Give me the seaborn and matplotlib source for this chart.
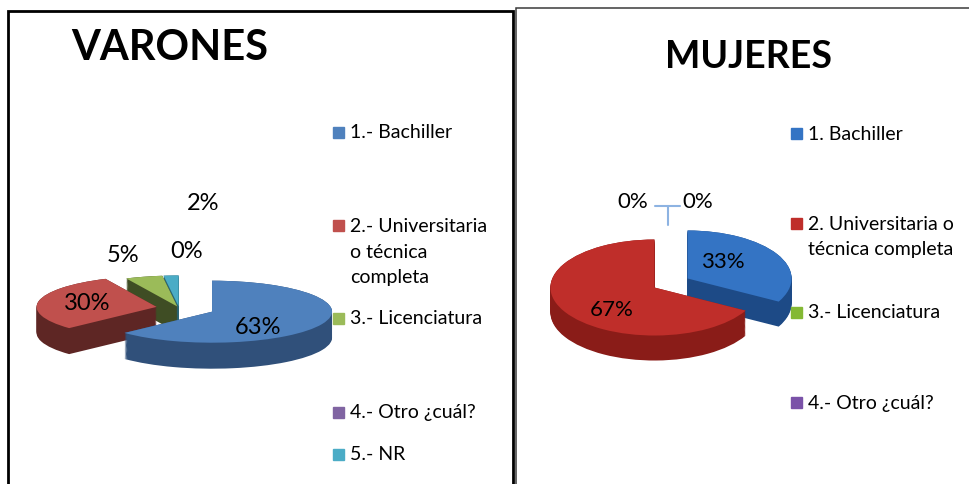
import numpy as np
import matplotlib
matplotlib.use('Agg')
import matplotlib.pyplot as plt
import matplotlib.patches as mpatches
import seaborn as sns

sns.set_theme(style='white')
plt.rcParams['font.family'] = ['Lato', 'DejaVu Sans']
plt.rcParams['text.color'] = 'black'

W, H = 969, 485

# ── Data ──────────────────────────────────────────────────────────────────────
men_labels = ['1.- Bachiller', '2.- Universitaria\no técnica\ncompleta',
              '3.- Licenciatura', '4.- Otro ¿cuál?', '5.- NR']
men_values = [63, 30, 5, 0, 2]

women_labels = ['1. Bachiller', '2. Universitaria o\ntécnica completa',
                '3.- Licenciatura', '4.- Otro ¿cuál?']
women_values = [33, 67, 0, 0]

# ── Colours ───────────────────────────────────────────────────────────────────
men_top = sns.color_palette(['#4F81BD', '#C0504D', '#9BBB59', '#8064A2', '#4BACC6'])
men_side = sns.color_palette(['#30507A', '#5E2624', '#3F4D24', '#3E2F52', '#2A6474'])
women_top = sns.color_palette(['#3474C4', '#BF2E2A', '#84B934', '#7A52A8'])
women_side = sns.color_palette(['#1D4A86', '#8A1C18', '#4E6E1C', '#452C63'])


def px_axes(fig, box):
    x0, y0, x1, y1 = box
    return fig.add_axes([x0 / W, 1 - y1 / H, (x1 - x0) / W, (y1 - y0) / H])


def pie3d(ax, values, top, side, explode, box, center, rx, ry, depth):
    """Fake 3D pie: stacked darker pies for the side, squashed by the axes limits."""
    x0, y0, x1, y1 = box
    cx, cy = center
    d = depth / ry
    n = 30
    for k in range(n):
        off = d * (1 - k / (n - 1))
        ax.pie(values, colors=side, explode=explode, startangle=90,
               counterclock=False, center=(0, -off),
               wedgeprops=dict(linewidth=0))
    wedges, _, autotexts = ax.pie(values, colors=top, explode=explode,
                                  startangle=90, counterclock=False,
                                  autopct=lambda p: f'{p:.0f}%',
                                  wedgeprops=dict(linewidth=0))
    ax.set_aspect('auto')
    ax.set_xlim((x0 - cx) / rx, (x1 - cx) / rx)
    ax.set_ylim((cy - y1) / ry, (cy - y0) / ry)
    ax.axis('off')
    return autotexts


def place_labels(fig, texts, positions, size):
    for t, (x, y) in zip(texts, positions):
        t.set_transform(fig.transFigure)
        t.set_position((x / W, 1 - y / H))
        t.set_fontsize(size)
        t.set_color('black')
        t.set_ha('center')
        t.set_va('center')


def draw_legend(fig, labels, colors, ys, x_sq, size, step=26):
    for lab, col, y in zip(labels, colors, ys):
        fig.add_artist(mpatches.Rectangle((x_sq / W, 1 - (y + 5.5) / H),
                                          11 / W, 11 / H, color=col,
                                          transform=fig.transFigure))
        for i, line in enumerate(lab.split('\n')):
            fig.text((x_sq + 17) / W, 1 - (y + i * step) / H, line,
                     fontsize=size, ha='left', va='center', color='black')


fig = plt.figure(figsize=(W / 100, H / 100), dpi=100)
fig.patch.set_facecolor('white')

# panel frames
fig.add_artist(mpatches.Rectangle((8 / W, -0.1), (513 - 8) / W, 1.1 - 12 / H,
                                  fill=False, ec='black', lw=2,
                                  transform=fig.transFigure))
fig.add_artist(mpatches.Rectangle((516 / W, -0.1), (1000 - 516) / W, 1.1 - 9 / H,
                                  fill=False, ec='#3a3a3a', lw=1.1,
                                  transform=fig.transFigure))

# ── VARONES ──────────────────────────────────────────────────────────────────
fig.text(170 / W, 1 - 48 / H, 'VARONES', fontsize=30, weight='bold',
         ha='center', va='center', color='black')
box_m = (20, 170, 345, 400)
ax_m = px_axes(fig, box_m)
txt_m = pie3d(ax_m, men_values, men_top, men_side,
              explode=[0.3, 0.19, 0.05, 0.05, 0.05],
              box=box_m, center=(179, 309), rx=120, ry=31, depth=26)
place_labels(fig, txt_m, [(258, 327), (87, 304), (123, 255), (187, 252), (203, 203)], 17)
draw_legend(fig, men_labels, men_top, [133, 226, 319, 413, 455], 333, 14)

# ── MUJERES ──────────────────────────────────────────────────────────────────
fig.text(748 / W, 1 - 57 / H, 'MUJERES', fontsize=27, weight='bold',
         ha='center', va='center', color='black')
box_w = (530, 170, 800, 400)
ax_w = px_axes(fig, box_w)
txt_w = pie3d(ax_w, women_values, women_top, women_side,
              explode=[0.185, 0.185, 0, 0],
              box=box_w, center=(671, 284), rx=104, ry=48, depth=25)
place_labels(fig, txt_w, [(723, 262), (612, 310), (633, 202), (698, 202)], 16)
# leader lines for the two empty slices
ax_w.plot([-0.15, 0.09], [1.6, 1.6], color='#8DB3E2', lw=1.5)
ax_w.plot([-0.03, -0.03], [1.6, 1.2], color='#8DB3E2', lw=1.5)
draw_legend(fig, women_labels, women_top, [134, 224, 313, 403], 791, 14)

fig.savefig('out.png', dpi=100)
